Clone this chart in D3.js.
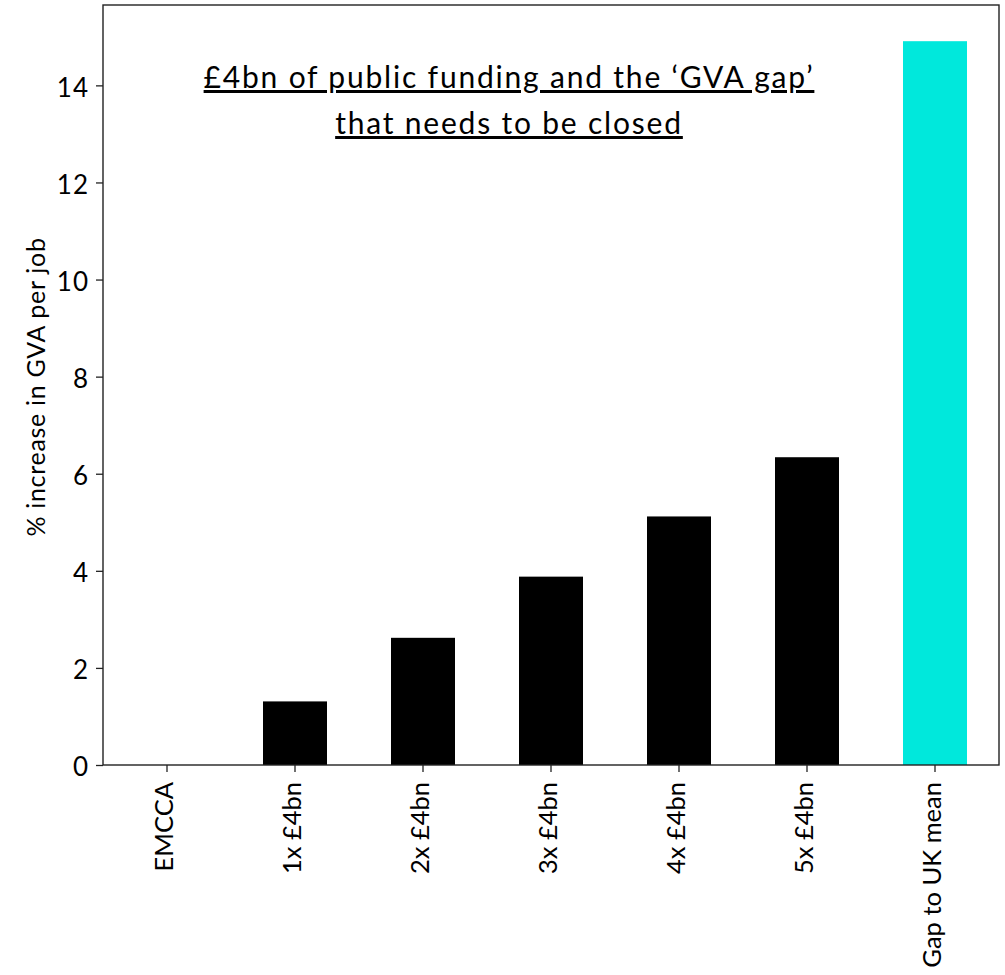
<!DOCTYPE html>
<html>
<head>
<meta charset="utf-8">
<script src="https://cdn.jsdelivr.net/npm/d3@7"></script>
<style>
  html, body { margin: 0; padding: 0; background: #fff; }
  svg { display: block; }
  text { font-family: Lato, "Open Sans", sans-serif; fill: #000; }
</style>
</head>
<body>
<svg id="chart" width="1005" height="975"></svg>
<script>
const categories = ["EMCCA", "1x £4bn", "2x £4bn", "3x £4bn", "4x £4bn", "5x £4bn", "Gap to UK mean"];
const values = [0, 1.31, 2.62, 3.88, 5.12, 6.34, 14.91];
const barColors = ["#000000", "#000000", "#000000", "#000000", "#000000", "#000000", "#00e8dc"];
const yTicks = [0, 2, 4, 6, 8, 10, 12, 14];
const titleLines = ["£4bn of public funding and the ‘GVA gap’", "that needs to be closed"];
const yLabel = "% increase in GVA per job";

const svg = d3.select("#chart");
const margin = { left: 103, right: 6, top: 5, bottom: 210 };
const W = 1005, H = 975;
const x0 = margin.left, x1 = W - margin.right, y0 = H - margin.bottom, y1 = margin.top;

const yMax = d3.max(values) * 1.05;
const x = d3.scaleBand().domain(categories).range([x0, x1]).paddingInner(0.5).paddingOuter(0.25);
const y = d3.scaleLinear().domain([0, yMax]).range([y0, y1]);

// bars
svg.append("g").selectAll("rect").data(categories).join("rect")
  .attr("x", d => x(d))
  .attr("width", x.bandwidth())
  .attr("y", (d, i) => y(values[i]))
  .attr("height", (d, i) => y(0) - y(values[i]))
  .attr("fill", (d, i) => barColors[i]);

// y axis
const yAxis = svg.append("g").attr("transform", `translate(${x0},0)`)
  .call(d3.axisLeft(y).tickValues(yTicks).tickFormat(d3.format("d")).tickSize(7).tickPadding(7));
yAxis.select(".domain").remove();
yAxis.selectAll(".tick line").attr("stroke", "#222").attr("stroke-width", 1.3);
yAxis.selectAll(".tick text").attr("font-size", 26).attr("font-family", "Lato, sans-serif")
  .attr("fill", "#000").attr("dy", "0.42em").attr("letter-spacing", 1);

// x axis
const xAxis = svg.append("g").attr("transform", `translate(0,${y0})`)
  .call(d3.axisBottom(x).tickSize(7).tickPadding(10));
xAxis.select(".domain").remove();
xAxis.selectAll(".tick line").attr("stroke", "#222").attr("stroke-width", 1.3);
xAxis.selectAll(".tick text")
  .attr("font-size", 25.5).attr("font-family", "Lato, sans-serif").attr("fill", "#000")
  .attr("transform", "rotate(-90)")
  .attr("text-anchor", "end")
  .attr("x", -17).attr("y", 0).attr("dy", "0.25em");

// frame
svg.append("rect").attr("x", x0).attr("y", y1).attr("width", x1 - x0).attr("height", y0 - y1)
  .attr("fill", "none").attr("stroke", "#222").attr("stroke-width", 1.4);

// y label
svg.append("text").attr("transform", `translate(45,387) rotate(-90)`)
  .attr("text-anchor", "middle").attr("font-size", 25).attr("letter-spacing", 0.7).text(yLabel);

// title
const tg = svg.append("g");
titleLines.forEach((t, i) => {
  tg.append("text").attr("x", 509).attr("y", 88 + i * 46)
    .attr("text-anchor", "middle").attr("font-size", 30).attr("letter-spacing", 1.8)
    .attr("text-decoration", "underline").text(t);
});
</script>
</body>
</html>
